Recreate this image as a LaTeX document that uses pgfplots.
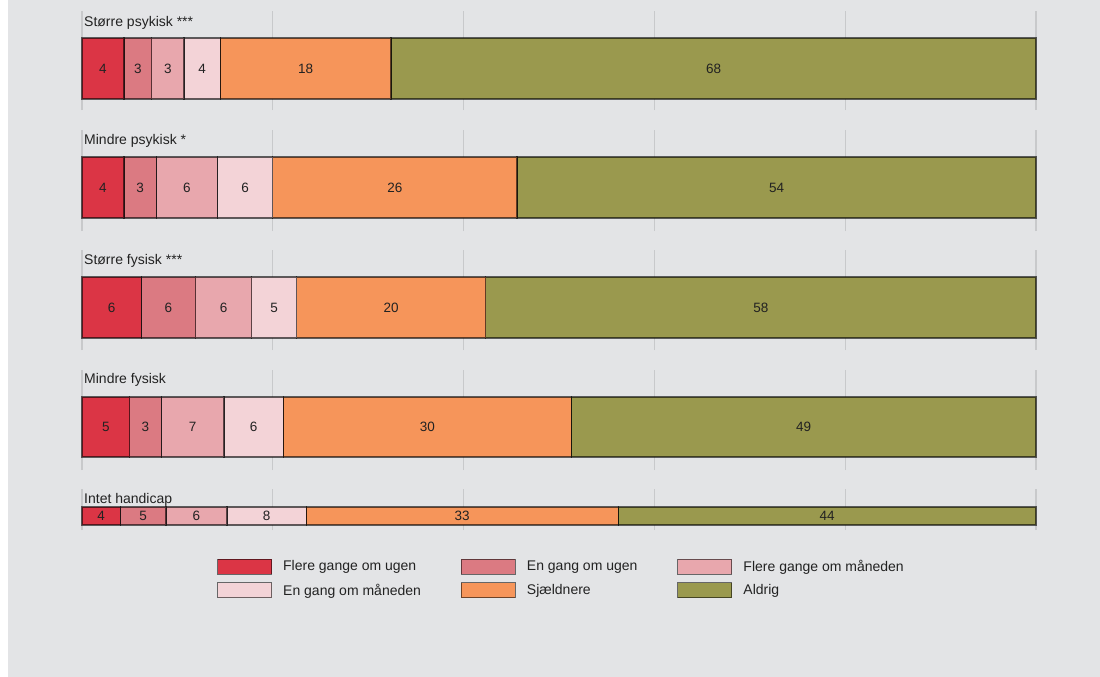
\documentclass[border=0pt]{standalone}
\usepackage{pgfplots}
\usepackage{pgfplotstable}
\usepackage{fontspec}
\setmainfont{Liberation Sans}
\pgfplotsset{compat=1.18}

\definecolor{bg}{HTML}{E3E4E6}
\definecolor{gridc}{HTML}{C8C9CB}
\definecolor{cA}{HTML}{DB3545}
\definecolor{cB}{HTML}{DB7A82}
\definecolor{cC}{HTML}{E8A7AD}
\definecolor{cD}{HTML}{F3D3D7}
\definecolor{cE}{HTML}{F6955A}
\definecolor{cF}{HTML}{9A994E}
\definecolor{txt}{HTML}{222222}

\newcommand\labfont{\fontsize{14}{16}\selectfont}
\newcommand\numfont{\fontsize{13.5}{16}\selectfont}
\newcommand\legfont{\fontsize{14}{16}\selectfont}

% Share (%) per answer category, one table per group
\pgfplotstableread{
a   b   c   d   e    f
4.4 2.9 3.4 3.8 17.9 67.6
}\grpA
\pgfplotstableread{
a   b   c   d   e    f
4.4 3.4 6.4 5.8 25.6 54.4
}\grpB
\pgfplotstableread{
a   b   c   d   e    f
6.2 5.7 5.9 4.7 19.8 57.7
}\grpC
\pgfplotstableread{
a   b   c   d   e    f
5.0 3.3 6.6 6.2 30.2 48.7
}\grpD
\pgfplotstableread{
a   b   c   d   e    f
4.0 4.8 6.4 8.3 32.7 43.8
}\grpE

\tikzset{grouplabel/.style={anchor=base west, font=\labfont, text=txt, inner sep=0pt, xshift=2pt}}

\pgfplotsset{
  panel/.style={
    xbar stacked,
    scale only axis,
    width=954pt,
    xmin=0, xmax=100,
    xtick={0,20,...,100},
    xticklabels={},
    ytick=\empty,
    xmajorgrids,
    major grid style={gridc, line width=1.3pt},
    major tick length=0pt,
    axis line style={draw=none},
    clip=false,
    anchor=south west,
    point meta=explicit,
    nodes near coords={\pgfmathprintnumber[fixed,precision=0,assume math mode=true]{\pgfplotspointmeta}},
    every node near coord/.style={anchor=center, font=\numfont, text=txt},
  },
  seg/.style={
    fill=#1, draw=black, draw opacity=0.6, line width=1.3pt,
    legend image code/.code={\draw[fill=#1, draw=black, draw opacity=0.55, line width=1pt]
      (0pt,-7.5pt) rectangle (54pt,7.5pt);},
  },
}

% the six segments of one group table
\newcommand\segments[1]{%
  \addplot[seg=cA] table[x=a, y expr=0, meta=a] {#1};
  \addplot[seg=cB] table[x=b, y expr=0, meta=b] {#1};
  \addplot[seg=cC] table[x=c, y expr=0, meta=c] {#1};
  \addplot[seg=cD] table[x=d, y expr=0, meta=d] {#1};
  \addplot[seg=cE] table[x=e, y expr=0, meta=e] {#1};
  \addplot[seg=cF] table[x=f, y expr=0, meta=f] {#1};
}

\begin{document}
\begin{tikzpicture}
\path[use as bounding box] (0,0) rectangle (1100pt,-677pt);
\fill[bg] (0,0) rectangle (1100pt,-677pt);
\fill[white] (0,0) rectangle (8pt,-677pt);

\begin{axis}[panel, at={(82pt,-110pt)}, height=99pt, ymin=-41.5, ymax=57.5, bar width=61pt]
  \segments{\grpA}
  \node[grouplabel] at (axis cs:0,41.5) {Større psykisk ***};
\end{axis}

\begin{axis}[panel, at={(82pt,-231pt)}, height=101pt, ymin=-43.5, ymax=57.5, bar width=61pt]
  \segments{\grpB}
  \node[grouplabel] at (axis cs:0,42.5) {Mindre psykisk *};
\end{axis}

\begin{axis}[panel, at={(82pt,-350pt)}, height=100pt, ymin=-42.5, ymax=57.5, bar width=61pt]
  \segments{\grpC}
  \node[grouplabel] at (axis cs:0,42.5) {Større fysisk ***};
\end{axis}

\begin{axis}[panel, at={(82pt,-470pt)}, height=100pt, ymin=-43, ymax=57, bar width=60pt]
  \segments{\grpD}
  \node[grouplabel] at (axis cs:0,43) {Mindre fysisk};
\end{axis}

\begin{axis}[panel, at={(82pt,-530pt)}, height=41pt, ymin=-14, ymax=27, bar width=18pt,
  legend columns=3,
  legend cell align=left,
  legend entries={Flere gange om ugen, En gang om ugen, Flere gange om måneden,
                  En gang om måneden, Sjældnere, Aldrig},
  legend style={at={(0.1415,-0.683)}, anchor=north west, draw=none, fill=none,
    inner sep=0pt, font=\legfont, text=txt,
    /tikz/row sep=7pt,
    /tikz/every odd column/.append style={column sep=9pt},
    /tikz/every even column/.append style={column sep=38pt}},
]
  \segments{\grpE}
  \node[grouplabel] at (axis cs:0,13) {Intet handicap};
\end{axis}
\end{tikzpicture}
\end{document}
